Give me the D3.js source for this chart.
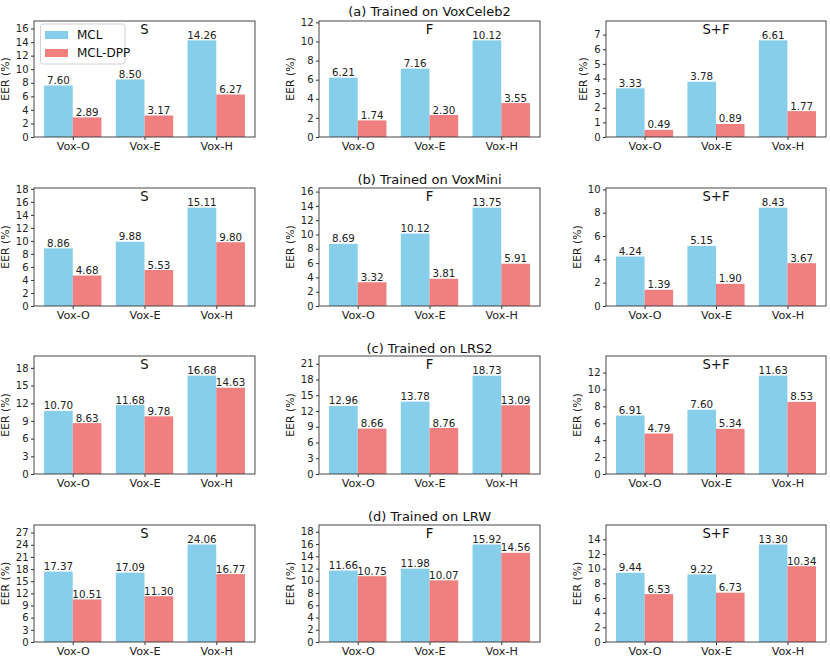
<!DOCTYPE html>
<html><head><meta charset="utf-8">
<script src="https://cdn.jsdelivr.net/npm/d3@7"></script>
<style>body{margin:0;background:#fff}svg{display:block;font-family:"DejaVu Sans",sans-serif}</style>
</head><body><svg id="c" width="830" height="663"></svg>
<script>
const categories = ["Vox-O", "Vox-E", "Vox-H"];
const seriesNames = ["MCL", "MCL-DPP"];
const panelLabels = ["S", "F", "S+F"];
const rowTitles = ["(a) Trained on VoxCeleb2", "(b) Trained on VoxMini", "(c) Trained on LRS2", "(d) Trained on LRW"];
// values per row: [S, F, S+F] each over categories
const mclVoxCeleb2 = [[7.60, 8.50, 14.26], [6.21, 7.16, 10.12], [3.33, 3.78, 6.61]];
const dppVoxCeleb2 = [[2.89, 3.17, 6.27], [1.74, 2.30, 3.55], [0.49, 0.89, 1.77]];
const mclVoxMini = [[8.86, 9.88, 15.11], [8.69, 10.12, 13.75], [4.24, 5.15, 8.43]];
const dppVoxMini = [[4.68, 5.53, 9.80], [3.32, 3.81, 5.91], [1.39, 1.90, 3.67]];
const mclLRS2 = [[10.70, 11.68, 16.68], [12.96, 13.78, 18.73], [6.91, 7.60, 11.63]];
const dppLRS2 = [[8.63, 9.78, 14.63], [8.66, 8.76, 13.09], [4.79, 5.34, 8.53]];
const mclLRW = [[17.37, 17.09, 24.06], [11.66, 11.98, 15.92], [9.44, 9.22, 13.30]];
const dppLRW = [[10.51, 11.30, 16.77], [10.75, 10.07, 14.56], [6.53, 6.73, 10.34]];
// y tick step per panel
const tickSteps = [[2, 2, 1], [2, 2, 2], [3, 3, 2], [3, 2, 2]];

const mclRows = [mclVoxCeleb2, mclVoxMini, mclLRS2, mclLRW];
const dppRows = [dppVoxCeleb2, dppVoxMini, dppLRS2, dppLRW];
const colors = ["#87CEEB", "#F08080"];

const cols = [[34, 255], [319, 540], [606, 826]];
const rows = [[21, 137], [188, 306], [356, 474], [525, 642]];
const titleY = [15.5, 183.5, 352.5, 520.5];

const svg = d3.select("#c");
const axisColor = "#333";

rows.forEach((ry, r) => {
  svg.append("text").attr("x", (cols[1][0] + cols[1][1]) / 2).attr("y", titleY[r])
    .attr("text-anchor", "middle").attr("font-size", 13).attr("fill", "#111").text(rowTitles[r]);
  cols.forEach((cx, c) => {
    const m = mclRows[r][c], d = dppRows[r][c];
    const ymax = d3.max(m.concat(d)) * 1.2;
    const y = d3.scaleLinear().domain([0, ymax]).range([ry[1], ry[0]]);
    const x = d3.scaleLinear().domain([-0.54, 2.54]).range([cx[0], cx[1]]);
    const g = svg.append("g");
    const step = tickSteps[r][c];
    const ticks = d3.range(0, ymax + 1e-9, step);
    // bars
    [m, d].forEach((vals, s) => {
      g.selectAll(null).data(vals).enter().append("rect")
        .attr("x", (v, i) => x(i - 0.4 + s * 0.4))
        .attr("width", x(0.4) - x(0))
        .attr("y", v => y(v)).attr("height", v => y(0) - y(v))
        .attr("fill", colors[s]);
      g.selectAll(null).data(vals).enter().append("text")
        .attr("x", (v, i) => x(i - 0.2 + s * 0.4)).attr("y", v => y(v) - 1.5)
        .attr("text-anchor", "middle").attr("font-size", 10.3).attr("fill", "#222")
        .text(v => v.toFixed(2));
    });
    // frame
    g.append("rect").attr("x", cx[0]).attr("y", ry[0]).attr("width", cx[1] - cx[0]).attr("height", ry[1] - ry[0])
      .attr("fill", "none").attr("stroke", axisColor).attr("stroke-width", 0.9);
    // y axis
    const ya = g.append("g").attr("transform", `translate(${cx[0]},0)`)
      .call(d3.axisLeft(y).tickValues(ticks).tickSize(3).tickPadding(2.5).tickFormat(d3.format("d")));
    ya.select(".domain").remove();
    ya.selectAll("line").attr("stroke", axisColor);
    ya.selectAll("text").attr("font-size", 10).attr("fill", "#222").attr("font-family", "DejaVu Sans");
    let maxW = 0;
    ya.selectAll("text").each(function () { maxW = Math.max(maxW, this.getComputedTextLength()); });
    // x axis
    const xa = g.append("g").attr("transform", `translate(0,${ry[1]})`)
      .call(d3.axisBottom(x).tickValues([0, 1, 2]).tickSize(3).tickPadding(2).tickFormat(i => categories[i]));
    xa.select(".domain").remove();
    xa.selectAll("line").attr("stroke", axisColor);
    xa.selectAll("text").attr("font-size", 11.2).attr("fill", "#222").attr("font-family", "DejaVu Sans");
    // y label
    const lx = cx[0] - 3 - 2.5 - maxW - 7;
    g.append("text").attr("transform", `translate(${lx},${(ry[0] + ry[1]) / 2}) rotate(-90)`)
      .attr("text-anchor", "middle").attr("font-size", 10.8).attr("fill", "#222").text("EER (%)");
    // panel label
    g.append("text").attr("x", (cx[0] + cx[1]) / 2).attr("y", ry[0] + 13)
      .attr("text-anchor", "middle").attr("font-size", 13.2).attr("fill", "#111").text(panelLabels[c]);
    // legend
    if (r === 0 && c === 0) {
      const lg = g.append("g");
      lg.append("rect").attr("x", 40.5).attr("y", 24).attr("width", 84.5).attr("height", 40).attr("rx", 2.5)
        .attr("fill", "#fff").attr("fill-opacity", 0.8).attr("stroke", "#ccc").attr("stroke-width", 0.9);
      seriesNames.forEach((n, s) => {
        const cy = 35 + s * 18;
        lg.append("rect").attr("x", 45).attr("y", cy - 4).attr("width", 23).attr("height", 8).attr("fill", colors[s]);
        lg.append("text").attr("x", 77).attr("y", cy + 4.4).attr("font-size", 12).attr("fill", "#111").text(n);
      });
    }
  });
});
</script></body></html>
